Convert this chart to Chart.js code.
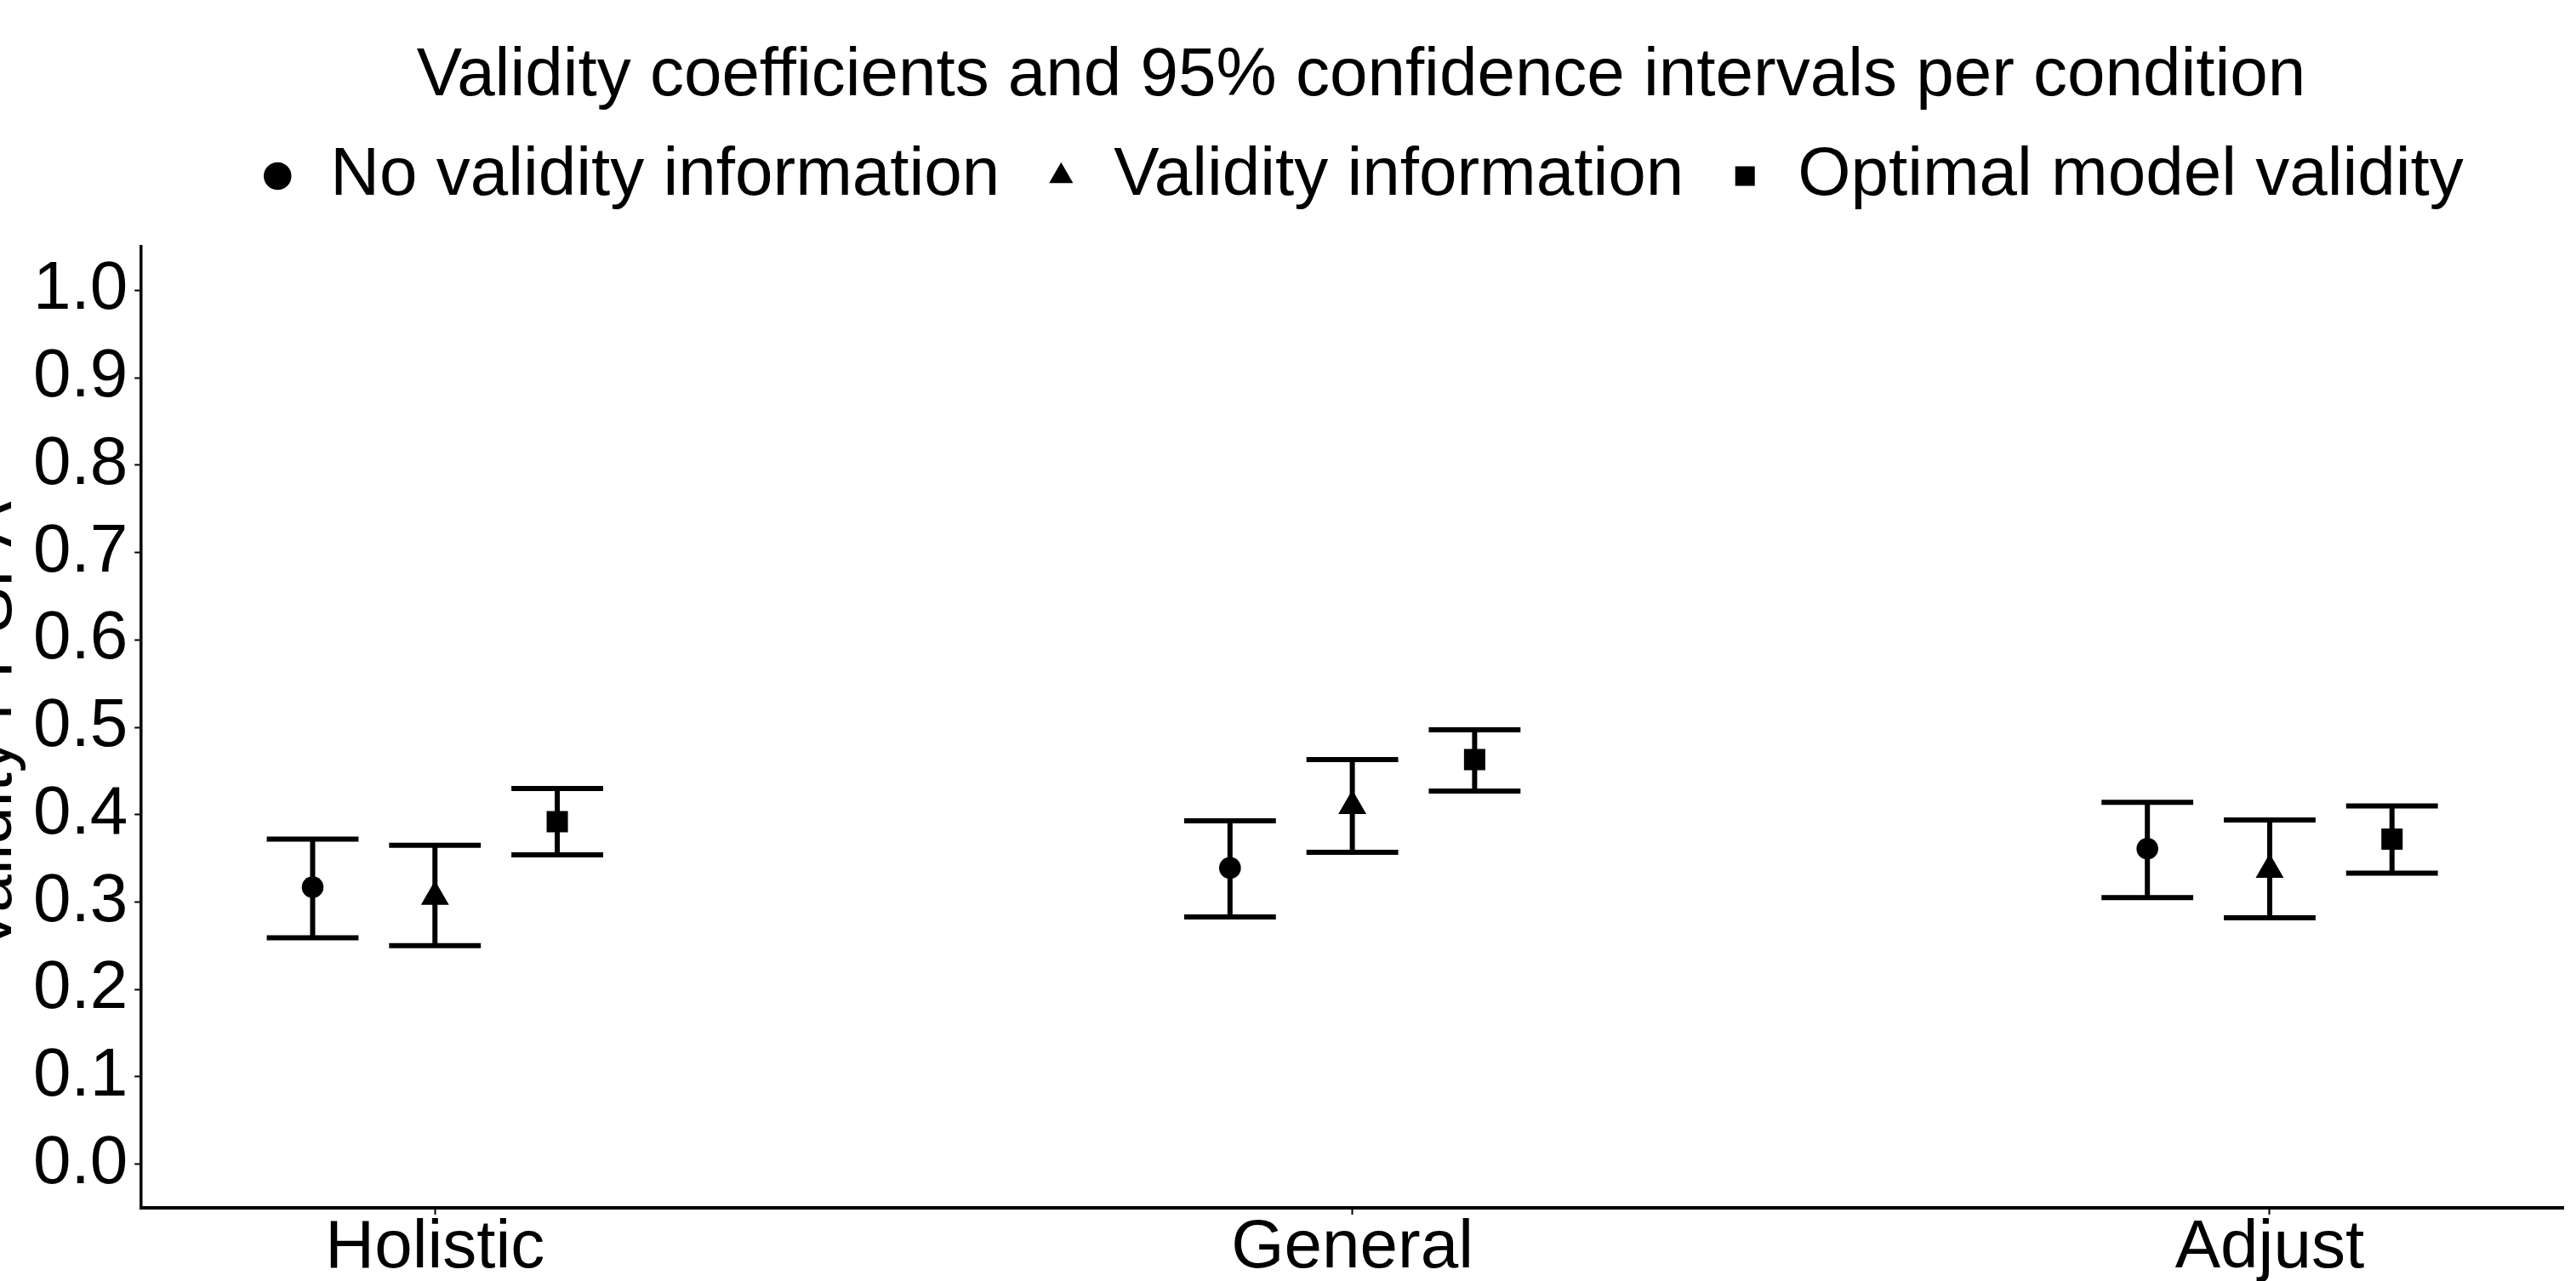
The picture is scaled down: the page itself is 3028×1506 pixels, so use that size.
<!DOCTYPE html>
<html>
<head>
<meta charset="utf-8">
<script src="https://cdn.jsdelivr.net/npm/chart.js@4/dist/chart.umd.min.js"></script>
<style>
  html, body { margin: 0; padding: 0; background: #fff; overflow: hidden; width: 3028px; height: 1506px; }
  #c { position: absolute; left: -49px; top: 0; }
</style>
</head>
<body>
<canvas id="c" width="3298" height="1508"></canvas>
<script>
// ---- data ----
const categories = ['Holistic', 'General', 'Adjust'];
const seriesNames = ['No validity information', 'Validity information', 'Optimal model validity'];
const noInfoEst  = [0.317, 0.339, 0.361];
const noInfoLow  = [0.259, 0.283, 0.305];
const noInfoHigh = [0.372, 0.393, 0.414];
const infoEst    = [0.306, 0.410, 0.337];
const infoLow    = [0.250, 0.357, 0.282];
const infoHigh   = [0.365, 0.463, 0.394];
const optEst     = [0.392, 0.463, 0.372];
const optLow     = [0.354, 0.427, 0.333];
const optHigh    = [0.430, 0.497, 0.410];
const yTickLabels = ['0.0','0.1','0.2','0.3','0.4','0.5','0.6','0.7','0.8','0.9','1.0'];
const chartTitle = 'Validity coefficients and 95% confidence intervals per condition';
const yAxisTitle = 'Validity r PSPA';

// ---- style / layout constants ----
const FONT = "'Liberation Sans', Arial, Helvetica, sans-serif";
const dodgeWidth = 0.4;
const capWidth = 0.1;
const pointStyles = ['circle', 'triangle', 'rect'];
const pointRadii = [12.8, 19, 17.7];

const est = [noInfoEst, infoEst, optEst];
const low = [noInfoLow, infoLow, optLow];
const high = [noInfoHigh, infoHigh, optHigh];

const datasets = seriesNames.map((name, k) => ({
  label: name,
  data: categories.map((c, i) => ({
    x: i + 1 + (k - 1) * dodgeWidth / 3,
    y: est[k][i],
    low: low[k][i],
    high: high[k][i]
  })),
  pointStyle: pointStyles[k],
  pointRadius: pointRadii[k],
  pointHoverRadius: pointRadii[k],
  backgroundColor: '#000',
  borderColor: '#000',
  borderWidth: 0,
  pointBorderWidth: 0,
  showLine: false
}));

const errorBars = {
  id: 'errorBars',
  beforeDatasetsDraw(chart) {
    const { ctx, scales: { x, y } } = chart;
    ctx.save();
    ctx.strokeStyle = '#000';
    ctx.lineWidth = 6;
    ctx.lineCap = 'butt';
    chart.data.datasets.forEach(ds => {
      ds.data.forEach(p => {
        const px = x.getPixelForValue(p.x);
        const xl = x.getPixelForValue(p.x - capWidth / 2);
        const xr = x.getPixelForValue(p.x + capWidth / 2);
        const yl = y.getPixelForValue(p.low);
        const yh = y.getPixelForValue(p.high);
        ctx.beginPath();
        ctx.moveTo(px, yl); ctx.lineTo(px, yh);
        ctx.moveTo(xl, yl); ctx.lineTo(xr, yl);
        ctx.moveTo(xl, yh); ctx.lineTo(xr, yh);
        ctx.stroke();
      });
    });
    ctx.restore();
  }
};

Chart.defaults.font.family = FONT;
Chart.defaults.color = '#000';

new Chart(document.getElementById('c'), {
  type: 'scatter',
  data: { datasets },
  plugins: [errorBars],
  options: {
    responsive: false,
    animation: false,
    events: [],
    layout: { padding: 0 },
    plugins: {
      tooltip: { enabled: false },
      title: {
        display: true,
        text: chartTitle,
        color: '#000',
        font: { size: 80, weight: 'normal', lineHeight: 1.0 },
        padding: { top: 50, bottom: -13 }
      },
      legend: {
        display: true,
        position: 'top',
        labels: {
          usePointStyle: true,
          boxWidth: 44,
          boxHeight: 23,
          padding: 50,
          color: '#000',
          font: { size: 80, lineHeight: 1.0 }
        }
      }
    },
    scales: {
      x: {
        type: 'linear',
        position: 'bottom',
        min: 0.68,
        max: 3.32,
        afterBuildTicks: s => { s.ticks = categories.map((c, i) => ({ value: i + 1 })); },
        ticks: {
          callback: (v, i) => categories[i],
          autoSkip: false,
          maxRotation: 0,
          padding: 0,
          color: '#000',
          font: { size: 80, lineHeight: 1.0 }
        },
        grid: { display: true, drawOnChartArea: false, drawTicks: true, tickLength: 8, tickWidth: 2, tickColor: '#000' },
        border: { display: true, color: '#000', width: 4 }
      },
      xTopSpacer: {
        type: 'linear',
        position: 'top',
        display: true,
        ticks: { display: false },
        grid: { display: false },
        border: { display: false },
        afterFit: s => { s.height = 33; }
      },
      y: {
        type: 'linear',
        position: 'left',
        min: -0.05,
        max: 1.05,
        afterBuildTicks: s => { s.ticks = yTickLabels.map(t => ({ value: parseFloat(t) })); },
        ticks: {
          callback: (v, i) => yTickLabels[i],
          padding: 8,
          color: '#000',
          font: { size: 80, lineHeight: 1.0 }
        },
        title: {
          display: true,
          text: yAxisTitle,
          color: '#000',
          padding: 0,
          font: { size: 80, lineHeight: 1.0 }
        },
        grid: { display: true, drawOnChartArea: false, drawTicks: true, tickLength: 8, tickWidth: 2, tickColor: '#000' },
        border: { display: true, color: '#000', width: 3.5 }
      },
      yRightSpacer: {
        type: 'linear',
        position: 'right',
        display: true,
        ticks: { display: false },
        grid: { display: false },
        border: { display: false },
        afterFit: s => { s.width = 236; }
      }
    }
  }
});
</script>
</body>
</html>
